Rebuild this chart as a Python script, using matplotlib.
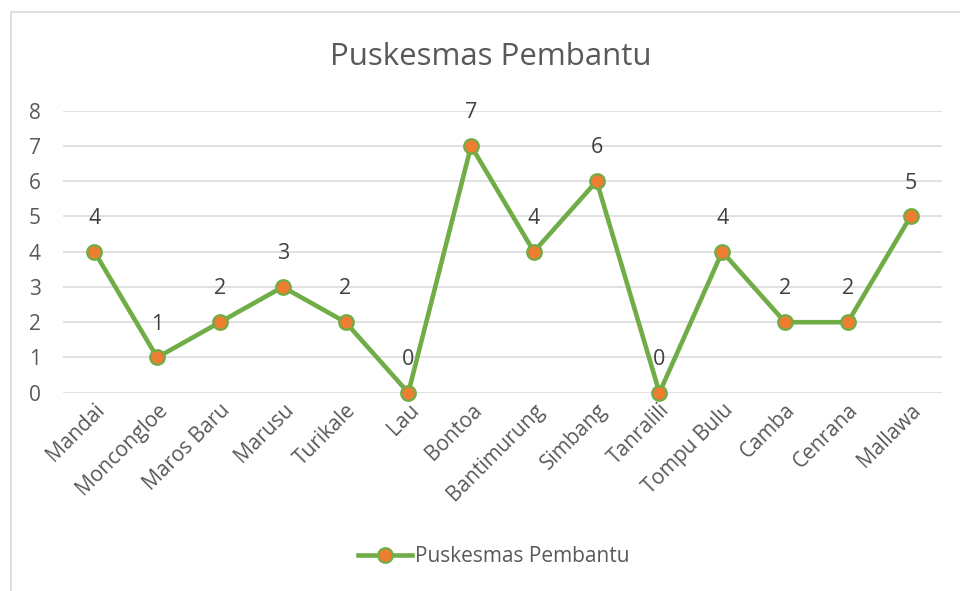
import matplotlib
matplotlib.use("Agg")
import matplotlib.pyplot as plt
from matplotlib.patches import Rectangle

# Data
categories = ["Mandai", "Moncongloe", "Maros Baru", "Marusu", "Turikale", "Lau",
              "Bontoa", "Bantimurung", "Simbang", "Tanralili", "Tompu Bulu",
              "Camba", "Cenrana", "Mallawa"]
values = [4, 1, 2, 3, 2, 0, 7, 4, 6, 0, 4, 2, 2, 5]
series_name = "Puskesmas Pembantu"
y_ticks = [0, 1, 2, 3, 4, 5, 6, 7, 8]

plt.rcParams["font.family"] = ["Open Sans", "DejaVu Sans"]

W, H = 960, 591
fig = plt.figure(figsize=(W / 100, H / 100), dpi=100)

# Chart area border
fig.patches.append(Rectangle((11 / W, -0.05), 1.2, (H - 12) / H + 0.05,
                             transform=fig.transFigure, fill=False,
                             edgecolor="#D9D9D9", linewidth=1.2))

left, right = 63 / W, 942 / W
bottom, top = (H - 392.7) / H, (H - 110.7) / H
ax = fig.add_axes([left, bottom, right - left, top - bottom])

green = "#70AD47"
orange = "#ED7D31"
text_grey = "#595959"

x = list(range(len(categories)))
ax.plot(x, values, color=green, linewidth=3.3, marker="o", markersize=10.5,
        markerfacecolor=orange, markeredgecolor=green, markeredgewidth=1.6,
        clip_on=False, zorder=3, label=series_name)

for xi, v in zip(x, values):
    ax.annotate(str(v), (xi, v), xytext=(0, 24), textcoords="offset points",
                ha="center", va="center", fontsize=15.5, color="#404040")

ax.set_xlim(-0.5, len(categories) - 0.5)
ax.set_ylim(0, 8)
ax.set_yticks(y_ticks)
ax.set_xticks(x)
ax.set_xticklabels(categories, rotation=45, ha="right", rotation_mode="anchor")
ax.tick_params(axis="both", length=0, labelcolor=text_grey, labelsize=15)
ax.tick_params(axis="y", pad=16)
ax.tick_params(axis="x", pad=5)

ax.grid(axis="y", color="#D9D9D9", linewidth=1.1)
ax.set_axisbelow(True)
for s in ax.spines.values():
    s.set_visible(False)

fig.text(491 / W, 1 - 57 / H, "Puskesmas Pembantu", ha="center", va="center",
         fontsize=22.5, color=text_grey)

fig.legend(loc="center", bbox_to_anchor=(494 / W, 1 - 557 / H), frameon=False,
           fontsize=15, labelcolor=text_grey, handlelength=2.6, handletextpad=0.15)

fig.savefig("out.png", dpi=100, facecolor="white")
